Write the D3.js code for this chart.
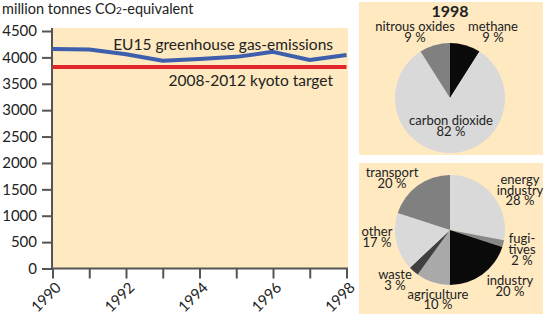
<!DOCTYPE html>
<html><head><meta charset="utf-8">
<script src="https://cdn.jsdelivr.net/npm/d3@7"></script>
<style>
html,body{margin:0;padding:0;background:#fff;}
svg{display:block;font-family:Lato,"Open Sans",sans-serif;}
</style></head>
<body><svg id="c" width="546" height="314"></svg>
<script>
// ---- data ----
const years = [1990,1991,1992,1993,1994,1995,1996,1997,1998];
const emissions = [4160,4150,4060,3935,3970,4010,4105,3950,4045];
const kyotoTarget = [3820,3820,3820,3820,3820,3820,3820,3820,3820];
const yTicks = [0,500,1000,1500,2000,2500,3000,3500,4000,4500];
const xTickLabels = [1990,1992,1994,1996,1998];

const gasCategories = ["methane","carbon dioxide","nitrous oxides"];
const gasValues = [9,82,9];
const sectorCategories = ["energy industry","fugitives","industry","agriculture","waste","other","transport"];
const sectorValues = [28,2,20,10,3,17,20];

// ---- styles ----
const bg = "#fee9c0";
const textCol = "#222";
const gasColors = ["#0a0a0a","#d9d9d9","#808080"];
const sectorColors = ["#d9d9d9","#888888","#0a0a0a","#a9a9a9","#404040","#d9d9d9","#808080"];

const svg = d3.select("#c");

// ---- line chart ----
const x = d3.scaleLinear().domain([1990,1998]).range([52.5,346.5]);
const y = d3.scaleLinear().domain([0,4500]).range([268.5,31]);

svg.append("rect").attr("x",52).attr("y",28).attr("width",296).attr("height",240.5).attr("fill",bg);

svg.append("text").attr("x",2).attr("y",14).attr("font-size",14.5).attr("fill",textCol)
  .call(t=>{
    t.append("tspan").text("million tonnes CO");
    t.append("tspan").attr("font-size",10).text("2");
    t.append("tspan").text("-equivalent");
  });

const yAxis = svg.append("g").attr("transform","translate(52,0)")
  .call(d3.axisLeft(y).tickValues(yTicks).tickFormat(d3.format("d")).tickSize(10).tickSizeOuter(0).tickPadding(5));
yAxis.select(".domain").remove();
yAxis.selectAll(".tick line").attr("stroke","#555").attr("stroke-width",2);
yAxis.selectAll(".tick text").attr("font-size",15).attr("fill",textCol).attr("font-family","Lato,sans-serif");
svg.append("line").attr("x1",52).attr("x2",52).attr("y1",28).attr("y2",269.5).attr("stroke","#555").attr("stroke-width",2);

const xAxis = svg.append("g").attr("transform","translate(0,268.5)")
  .call(d3.axisBottom(x).tickValues(years).tickSize(10).tickSizeOuter(0)
    .tickFormat(d=> xTickLabels.includes(d) ? String(d) : ""));
xAxis.select(".domain").attr("stroke","#555").attr("stroke-width",2).attr("d","M51,0H348");
xAxis.selectAll(".tick line").attr("stroke","#555").attr("stroke-width",2);
xAxis.selectAll(".tick text").attr("font-size",15).attr("fill",textCol).attr("font-family","Lato,sans-serif")
  .attr("text-anchor","end").attr("dy",0).attr("y",0)
  .attr("transform","translate(9,20) rotate(-45)");

const line = d3.line().x((d,i)=>x(years[i])).y(d=>y(d));
svg.append("path").datum(kyotoTarget).attr("d",line).attr("fill","none").attr("stroke","#e3262b").attr("stroke-width",4);
svg.append("path").datum(emissions).attr("d",line).attr("fill","none").attr("stroke","#3d5fac").attr("stroke-width",4).attr("stroke-linejoin","round");

svg.append("text").attr("x",333).attr("y",50).attr("text-anchor","end").attr("font-size",15.5).attr("fill",textCol).text("EU15 greenhouse gas-emissions");
svg.append("text").attr("x",333).attr("y",86).attr("text-anchor","end").attr("font-size",15.5).attr("fill",textCol).text("2008-2012 kyoto target");

// ---- panels ----
svg.append("rect").attr("x",359).attr("y",2).attr("width",184).attr("height",153).attr("fill",bg);
svg.append("rect").attr("x",359).attr("y",163).attr("width",184).attr("height",151).attr("fill",bg);

const pie = d3.pie().sort(null).value(d=>d);
const arc = d3.arc().innerRadius(0).outerRadius(55);

const g1 = svg.append("g").attr("transform","translate(450,98)");
g1.selectAll("path").data(pie(gasValues)).join("path").attr("d",arc).attr("fill",(d,i)=>gasColors[i]);

const g2 = svg.append("g").attr("transform","translate(450,230)");
g2.selectAll("path").data(pie(sectorValues)).join("path").attr("d",arc).attr("fill",(d,i)=>sectorColors[i]);

function label(lines, cx, by, opts={}){
  const t = svg.append("text").attr("text-anchor",opts.anchor||"middle").attr("font-size",opts.size||13)
    .attr("fill",textCol).attr("font-weight",opts.weight||"normal");
  lines.forEach((s,i)=> t.append("tspan").attr("x",cx).attr("y",by+i*(opts.lh||11)).text(s));
}
label(["1998"],450,17,{size:16,weight:"bold"});
label(["nitrous oxides", gasValues[2]+" %"],415,31);
label(["methane", gasValues[0]+" %"],493,31);
label(["carbon dioxide", gasValues[1]+" %"],451,125);

label(["transport", sectorValues[6]+" %"],392,177);
label(["energy","industry", sectorValues[0]+" %"],520,184,{lh:10.5});
label(["fugi-","tives", sectorValues[1]+" %"],522,243);
label(["industry", sectorValues[2]+" %"],510,285);
label(["agriculture", sectorValues[3]+" %"],438,299,{lh:9.5});
label(["waste", sectorValues[4]+" %"],395,279);
label(["other", sectorValues[5]+" %"],377,236);
</script></body></html>
